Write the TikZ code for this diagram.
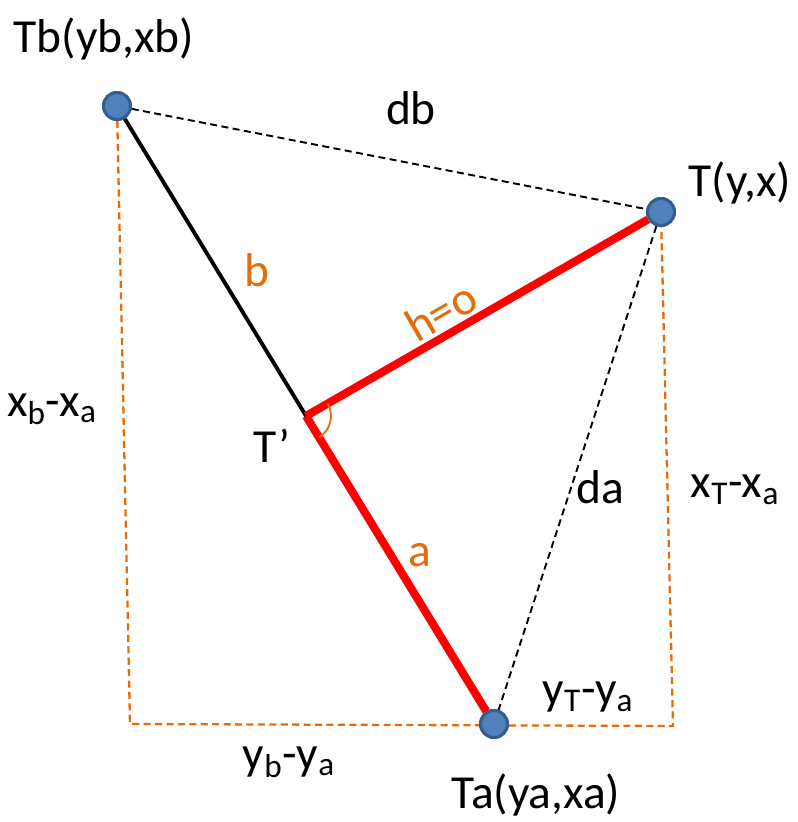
\documentclass[tikz,border=0pt]{standalone}
\usepackage{fontspec}
\setmainfont{Carlito}
\usepackage{tikz}
\definecolor{ptfill}{RGB}{79,129,189}
\definecolor{ptedge}{RGB}{56,93,138}
\definecolor{lineorange}{RGB}{228,108,10}

\begin{document}
\begin{tikzpicture}[>=stealth, scale=1.0,
  station/.style={circle, fill=ptfill, draw=ptedge, line width=1.7pt, minimum size=0.54cm, inner sep=0pt},
  guide/.style={dash pattern=on 4pt off 2.5pt, lineorange, line width=1.3pt},
  chord/.style={dash pattern=on 4pt off 2.5pt, black, line width=1.1pt},
  redline/.style={red, line width=4.6pt},
  lbl/.style={font=\fontsize{27}{32}\selectfont},
  olbl/.style={font=\fontsize{27}{32}\selectfont, text=lineorange}]
  \useasboundingbox (0,0) rectangle (15.96,16.44);
  \node[station] (Tb) at (2.34,14.32) {};
  \node[station] (T) at (13.22,12.20) {};
  \node[station] (Ta) at (9.88,1.96) {};
  \coordinate (Tp) at (6.12,8.12);
  \coordinate (BL) at (2.60,1.96);
  \coordinate (BR) at (13.46,1.92);
  \draw[guide] (Tb) -- (BL) -- (BR) -- (T);
  \draw[chord] (Tb) -- (T);
  \draw[chord] (T) -- (Ta);
  \draw[line width=2.2pt] (Tb) -- (Ta);
  \draw[redline] (Tp) -- (T);
  \draw[redline] (Tp) -- (Ta);
  \draw[lineorange, line width=1pt] ([shift={(30:0.5)}]Tp) arc (30:-58.6:0.5);
  \node[station] at (Tb) {};
  \node[station] at (T) {};
  \node[station] at (Ta) {};
  \node[lbl] (TbName) at (2.08,15.66) {Tb(yb,xb)};
  \node[lbl] (TName) at (14.80,12.78) {T(y,x)};
  \node[lbl] (TaName) at (10.72,0.54) {Ta(ya,xa)};
  \node[lbl] (TpName) at (5.44,7.52) {T’};
  \node[lbl] (db) at (8.22,14.28) {db};
  \node[lbl] (da) at (12.00,6.70) {da};
  \node[olbl] (bLen) at (5.14,11.04) {b};
  \node[olbl] (aLen) at (8.40,5.34) {a};
  \node[olbl, rotate=30, inner sep=1pt] (hLen) at (8.82,10.22) {h=o};
  \node[lbl] (dxb) at (1.04,8.26) {x\textsubscript{b}-x\textsubscript{a}};
  \node[lbl] (dxT) at (14.70,6.64) {x\textsubscript{T}-x\textsubscript{a}};
  \node[lbl] (dyT) at (11.76,2.50) {y\textsubscript{T}-y\textsubscript{a}};
  \node[lbl] (dyb) at (5.78,1.20) {y\textsubscript{b}-y\textsubscript{a}};
\end{tikzpicture}
\end{document}
